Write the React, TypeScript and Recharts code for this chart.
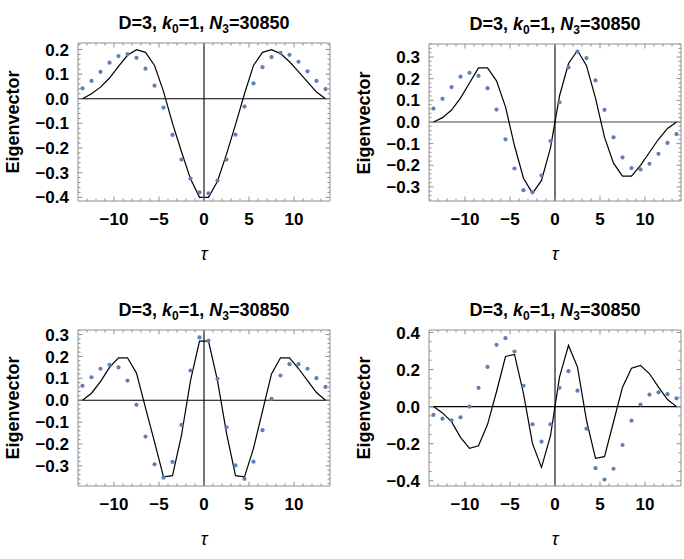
import React from 'react';
import { ComposedChart, Line, Scatter, XAxis, YAxis, ReferenceLine } from 'recharts';

// time slices (half-integer tau)
const TAU = [
  -13.5, -12.5, -11.5, -10.5, -9.5, -8.5, -7.5, -6.5, -5.5, -4.5, -3.5, -2.5, -1.5, -0.5,
  0.5, 1.5, 2.5, 3.5, 4.5, 5.5, 6.5, 7.5, 8.5, 9.5, 10.5, 11.5, 12.5, 13.5,
];

// first eigenvector: measured points and fitted curve
const dots1 = [
  0.042, 0.072, 0.109, 0.146, 0.173, 0.181, 0.166, 0.122, 0.053, -0.036, -0.147, -0.247, -0.324, -0.38,
  -0.384, -0.332, -0.247, -0.146, -0.032, 0.062, 0.128, 0.169, 0.186, 0.178, 0.15, 0.111, 0.072, 0.039,
];
const curve1 = [
  0, 0.02, 0.047, 0.084, 0.131, 0.176, 0.199, 0.188, 0.135, 0.03, -0.1, -0.215, -0.325, -0.4,
  -0.4, -0.335, -0.225, -0.105, 0.02, 0.135, 0.188, 0.199, 0.183, 0.15, 0.11, 0.068, 0.027, 0,
];

// second eigenvector
const dots2 = [
  0.062, 0.107, 0.161, 0.209, 0.227, 0.213, 0.156, 0.057, -0.08, -0.215, -0.315, -0.325, -0.247, -0.088,
  0.091, 0.252, 0.325, 0.295, 0.192, 0.056, -0.071, -0.164, -0.213, -0.219, -0.193, -0.147, -0.097, -0.056,
];
const curve2 = [
  0, 0.02, 0.055, 0.11, 0.18, 0.25, 0.25, 0.19, 0.07, -0.11, -0.26, -0.33, -0.27, -0.12,
  0.12, 0.27, 0.33, 0.26, 0.11, -0.07, -0.19, -0.25, -0.25, -0.2, -0.14, -0.08, -0.03, 0,
];

// third eigenvector
const dots3 = [
  0.066, 0.105, 0.144, 0.162, 0.15, 0.09, -0.021, -0.166, -0.293, -0.354, -0.282, -0.113, 0.136, 0.287,
  0.272, 0.098, -0.124, -0.298, -0.359, -0.281, -0.137, 0.006, 0.113, 0.165, 0.165, 0.144, 0.101, 0.061,
];
const curve3 = [
  0, 0.032, 0.085, 0.15, 0.194, 0.194, 0.124, -0.035, -0.19, -0.35, -0.345, -0.16, 0.09, 0.27,
  0.27, 0.09, -0.15, -0.345, -0.35, -0.22, -0.05, 0.12, 0.194, 0.194, 0.145, 0.09, 0.035, 0,
];

// fourth eigenvector
const dots4 = [
  -0.045, -0.065, -0.074, -0.058, 0.0, 0.101, 0.214, 0.333, 0.369, 0.297, 0.112, -0.095, -0.189, -0.095,
  0.101, 0.191, 0.086, -0.119, -0.332, -0.393, -0.335, -0.207, -0.076, 0.011, 0.065, 0.077, 0.067, 0.045,
];
const curve4 = [
  0, -0.034, -0.081, -0.166, -0.225, -0.211, -0.097, 0.08, 0.27, 0.281, 0.07, -0.2, -0.328, -0.157,
  0.159, 0.33, 0.213, -0.074, -0.279, -0.27, -0.083, 0.105, 0.207, 0.222, 0.177, 0.105, 0.038, 0,
];

const X_MAJOR = [-10, -5, 0, 5, 10];
const Y_MAJOR_A = [-0.4, -0.3, -0.2, -0.1, 0, 0.1, 0.2];
const Y_MAJOR_B = [-0.3, -0.2, -0.1, 0, 0.1, 0.2, 0.3];
const Y_MAJOR_C = [-0.4, -0.2, 0, 0.2, 0.4];

const FONT = '"Liberation Sans", Arial, sans-serif';
const FRAME = '#8f8f8f';
const DOT = '#5e81b5';

const fmtY = (v: number) => {
  const s = Math.abs(v).toFixed(1);
  return v < -1e-9 ? '\u2212' + s : s;
};
const fmtX = (v: number) => (v < 0 ? '\u2212' + Math.abs(v) : String(v));

function minorTicks(lo: number, hi: number, step: number) {
  const out: number[] = [];
  for (let k = Math.ceil(lo / step - 1e-9); k * step <= hi + 1e-9; k++) {
    out.push(Math.round(k * step * 1000) / 1000);
  }
  return out;
}

const isMajor = (v: number, majors: number[]) => majors.some((m) => Math.abs(m - v) < 1e-6);

type PanelProps = {
  left: number;
  top: number;
  plot: { l: number; t: number; r: number; b: number };
  yDomain: [number, number];
  yMajor: number[];
  yMinorStep: number;
  dots: number[];
  curve: number[];
  axisColor?: string;
};

// axis box sizes reserved around the plot area
const LEFT_W = 60;
const RIGHT_W = 10;
const TOP_H = 10;
const BOTTOM_H = 30;

function Panel({ left, top, plot, yDomain, yMajor, yMinorStep, dots, curve, axisColor = '#000' }: PanelProps) {
  const W = 362;
  const H = 280;
  const rows = TAU.map((t, i) => ({ tau: t, dot: dots[i], curve: curve[i] }));
  const xTicks = minorTicks(-13, 13, 1);
  const yTicks = minorTicks(yDomain[0], yDomain[1], yMinorStep);
  const cx = (plot.l + plot.r) / 2;
  const cy = (plot.t + plot.b) / 2;

  const bottomTick = (p: any) => {
    const v = p.payload.value;
    const major = isMajor(v, X_MAJOR);
    return (
      <g>
        <line x1={p.x} x2={p.x} y1={p.y} y2={p.y - (major ? 4.5 : 2.5)} stroke={FRAME} />
        {major && (
          <text x={p.x} y={p.y + 24} textAnchor="middle" fontFamily={FONT} fontWeight="bold" fontSize={17} fill="#000">
            {fmtX(v)}
          </text>
        )}
      </g>
    );
  };
  const topTick = (p: any) => {
    const major = isMajor(p.payload.value, X_MAJOR);
    return <line x1={p.x} x2={p.x} y1={p.y} y2={p.y + (major ? 4.5 : 2.5)} stroke={FRAME} />;
  };
  const leftTick = (p: any) => {
    const v = p.payload.value;
    const major = isMajor(v, yMajor);
    return (
      <g>
        <line x1={p.x} x2={p.x + (major ? 4.5 : 2.5)} y1={p.y} y2={p.y} stroke={FRAME} />
        {major && (
          <text x={p.x - 9} y={p.y} dy="0.36em" textAnchor="end" fontFamily={FONT} fontWeight="bold" fontSize={17} fill="#000">
            {fmtY(v)}
          </text>
        )}
      </g>
    );
  };
  const rightTick = (p: any) => {
    const major = isMajor(p.payload.value, yMajor);
    return <line x1={p.x} x2={p.x - (major ? 4.5 : 2.5)} y1={p.y} y2={p.y} stroke={FRAME} />;
  };

  return (
    <div style={{ position: 'absolute', left, top, width: W, height: H }}>
      <div style={{ position: 'absolute', left: 0, top: 0 }}>
        <ComposedChart
          width={W}
          height={H}
          data={rows}
          margin={{
            top: plot.t - TOP_H,
            left: plot.l - LEFT_W,
            right: W - plot.r - RIGHT_W,
            bottom: H - plot.b - BOTTOM_H,
          }}
        >
          <XAxis
            dataKey="tau"
            type="number"
            domain={[-14, 14]}
            allowDataOverflow
            ticks={xTicks}
            interval={0}
            height={BOTTOM_H}
            tickSize={0}
            tickMargin={0}
            tickLine={false}
            stroke={FRAME}
            tick={bottomTick}
          />
          <XAxis
            xAxisId="top"
            orientation="top"
            dataKey="tau"
            type="number"
            domain={[-14, 14]}
            allowDataOverflow
            ticks={xTicks}
            interval={0}
            height={TOP_H}
            tickSize={0}
            tickMargin={0}
            tickLine={false}
            stroke={FRAME}
            tick={topTick}
          />
          <YAxis
            type="number"
            domain={yDomain}
            allowDataOverflow
            ticks={yTicks}
            interval={0}
            width={LEFT_W}
            tickSize={0}
            tickMargin={0}
            tickLine={false}
            stroke={FRAME}
            tick={leftTick}
          />
          <YAxis
            yAxisId="right"
            orientation="right"
            type="number"
            domain={yDomain}
            allowDataOverflow
            ticks={yTicks}
            interval={0}
            width={RIGHT_W}
            tickSize={0}
            tickMargin={0}
            tickLine={false}
            stroke={FRAME}
            tick={rightTick}
          />
          <ReferenceLine y={0} stroke={axisColor} strokeWidth={1.1} />
          <ReferenceLine x={0} stroke="#000" strokeWidth={1.1} />
          <Line
            dataKey="curve"
            type="linear"
            stroke="#000"
            strokeWidth={1.2}
            dot={false}
            activeDot={false}
            isAnimationActive={false}
          />
          <Scatter
            dataKey="dot"
            isAnimationActive={false}
            shape={(s: any) => <circle cx={s.cx} cy={s.cy} r={2.1} fill={DOT} />}
          />
        </ComposedChart>
      </div>
      <div
        style={{
          position: 'absolute',
          left: cx - 120,
          width: 240,
          top: plot.t - 30,
          textAlign: 'center',
          fontFamily: FONT,
          fontWeight: 'bold',
          fontSize: 18,
          lineHeight: '20px',
          whiteSpace: 'nowrap',
        }}
      >
        D=3, <i>k</i>
        <span style={{ fontSize: 12, position: 'relative', top: 4 }}>0</span>=1, <i>N</i>
        <span style={{ fontSize: 12, position: 'relative', top: 4 }}>3</span>=30850
      </div>
      <div
        style={{
          position: 'absolute',
          left: plot.l - 65,
          top: cy,
          transform: 'translate(-50%, -50%) rotate(-90deg)',
          fontFamily: FONT,
          fontWeight: 'bold',
          fontSize: 18,
          lineHeight: '20px',
          whiteSpace: 'nowrap',
        }}
      >
        Eigenvector
      </div>
      <div
        style={{
          position: 'absolute',
          left: cx,
          top: plot.b + 53,
          transform: 'translate(-50%, -50%)',
          fontFamily: FONT,
          fontStyle: 'italic',
          fontSize: 18,
          lineHeight: '20px',
        }}
      >
        τ
      </div>
    </div>
  );
}

export default function App() {
  return (
    <div style={{ position: 'absolute', left: 0, top: 0, width: 684, height: 559, background: '#fff', overflow: 'hidden' }}>
      <Panel
        left={0}
        top={0}
        plot={{ l: 78, t: 43, r: 330, b: 201 }}
        yDomain={[-0.415, 0.226]}
        yMajor={Y_MAJOR_A}
        yMinorStep={0.02}
        dots={dots1}
        curve={curve1}
      />
      <Panel
        left={342}
        top={0}
        plot={{ l: 87, t: 44, r: 339, b: 201 }}
        yDomain={[-0.365, 0.36]}
        yMajor={Y_MAJOR_B}
        yMinorStep={0.02}
        dots={dots2}
        curve={curve2}
        axisColor="#444"
      />
      <Panel
        left={0}
        top={280}
        plot={{ l: 78, t: 50, r: 330, b: 206 }}
        yDomain={[-0.392, 0.321]}
        yMajor={Y_MAJOR_B}
        yMinorStep={0.02}
        dots={dots3}
        curve={curve3}
      />
      <Panel
        left={342}
        top={280}
        plot={{ l: 87, t: 50, r: 339, b: 206 }}
        yDomain={[-0.428, 0.413]}
        yMajor={Y_MAJOR_C}
        yMinorStep={0.05}
        dots={dots4}
        curve={curve4}
      />
    </div>
  );
}
